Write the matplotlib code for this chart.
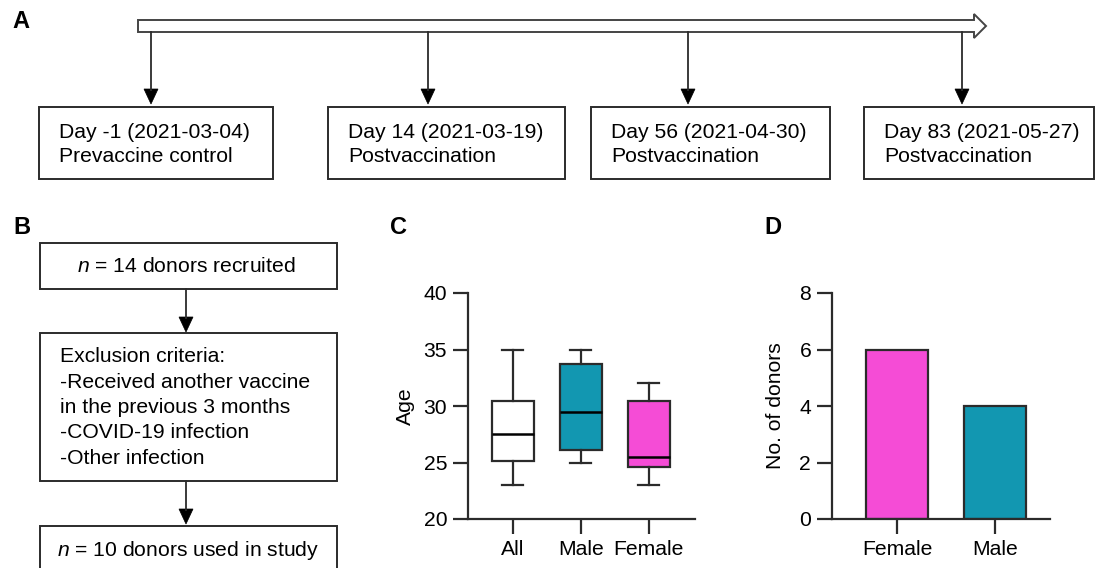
import numpy as np
import matplotlib
matplotlib.use("Agg")
import matplotlib.pyplot as plt
from matplotlib.patches import Rectangle, Polygon, FancyArrow

plt.rcParams['font.family'] = ['Liberation Sans', 'DejaVu Sans']
plt.rcParams['mathtext.fontset'] = 'custom'
plt.rcParams['mathtext.it'] = 'Liberation Sans:italic'
plt.rcParams['mathtext.rm'] = 'Liberation Sans'

# Panel A: timeline
day_labels = ["Day -1 (2021-03-04)", "Day 14 (2021-03-19)", "Day 56 (2021-04-30)", "Day 83 (2021-05-27)"]
day_notes = ["Prevaccine control", "Postvaccination", "Postvaccination", "Postvaccination"]

# Panel B: flow chart
flow_top = r"$\mathit{n}$ = 14 donors recruited"
flow_mid = ["Exclusion criteria:", "-Received another vaccine", "in the previous 3 months",
            "-COVID-19 infection", "-Other infection"]
flow_bottom = r"$\mathit{n}$ = 10 donors used in study"

# Panel C: age box plots (whisker low, q1, median, q3, whisker high)
groups = ["All", "Male", "Female"]
whislo = [23, 25, 23]
q1 = [25.1, 26.1, 24.6]
med = [27.5, 29.5, 25.5]
q3 = [30.4, 33.7, 30.4]
whishi = [35, 35, 32]

# Panel D: donor counts
sexes = ["Female", "Male"]
counts = [6, 4]

teal = '#1297b1'
pink = '#f54cd6'
ink = '#2b2b2b'
W, H = 1097, 568

fig = plt.figure(figsize=(W / 100, H / 100), dpi=100)
ax0 = fig.add_axes([0, 0, 1, 1])
ax0.set_xlim(0, W)
ax0.set_ylim(H, 0)
ax0.axis('off')


def down_arrow(x, y0, y1):
    ax0.plot([x, x], [y0, y1 - 14], color=ink, lw=1.3)
    ax0.add_patch(Polygon([[x - 7, y1 - 15], [x + 7, y1 - 15], [x, y1]], closed=True,
                          fc='black', ec='black', lw=0.5))


# panel letters
for letter, (lx, ly) in zip("ABCD", [(12, 22), (13, 227), (390, 227), (764, 227)]):
    ax0.text(lx, ly, letter, fontsize=17, fontweight='bold', va='center', ha='left')

# A
ax0.add_patch(FancyArrow(138, 26, 848, 0, width=12, head_width=24, head_length=12,
                         length_includes_head=True, fc='white', ec='#444444', lw=1.4))
box_left = [39, 328, 591, 864]
box_right = [273, 565, 830, 1094]
arrow_x = [151, 428, 688, 962]
for i in range(4):
    down_arrow(arrow_x[i], 32, 104)
    ax0.add_patch(Rectangle((box_left[i], 107), box_right[i] - box_left[i], 72,
                            fc='white', ec=ink, lw=1.4))
    ax0.text(box_left[i] + 20, 132, day_labels[i], fontsize=15.2, va='center', ha='left')
    ax0.text(box_left[i] + 20, 157, day_notes[i], fontsize=15.2, va='center', ha='left')

# B
ax0.add_patch(Rectangle((40, 243), 297, 46, fc='white', ec=ink, lw=1.4))
ax0.text(186, 267, flow_top, fontsize=15.2, va='center', ha='center')
down_arrow(186, 289, 332)
ax0.add_patch(Rectangle((40, 333), 297, 148, fc='white', ec=ink, lw=1.4))
for j, line in enumerate(flow_mid):
    ax0.text(60, 357 + j * 25.3, line, fontsize=15.2, va='center', ha='left')
down_arrow(186, 481, 524)
ax0.add_patch(Rectangle((40, 526), 297, 60, fc='white', ec=ink, lw=1.4, clip_on=False))
ax0.text(188, 550, flow_bottom, fontsize=15.2, va='center', ha='center')


def style_axes(ax):
    for s in ['top', 'right']:
        ax.spines[s].set_visible(False)
    for s in ['left', 'bottom']:
        ax.spines[s].set_linewidth(1.6)
        ax.spines[s].set_color(ink)
    ax.tick_params(axis='both', width=1.6, length=11, color=ink, labelsize=15.2, pad=4)
    ax.patch.set_alpha(0)


# C
axc = fig.add_axes([468 / W, (H - 519) / H, (695 - 468) / W, (519 - 293) / H])
stats = []
for i, g in enumerate(groups):
    stats.append(dict(label=g, whislo=whislo[i], q1=q1[i], med=med[i], q3=q3[i],
                      whishi=whishi[i], fliers=[]))
bp = axc.bxp(stats, positions=[1, 2, 3], widths=0.62, patch_artist=True, showfliers=False,
             boxprops=dict(lw=1.6, ec=ink), whiskerprops=dict(lw=1.6, color=ink),
             capprops=dict(lw=1.6, color=ink), medianprops=dict(lw=1.8, color='black'))
for patch, c in zip(bp['boxes'], ['white', teal, pink]):
    patch.set_facecolor(c)
axc.set_xlim(0.338, 3.68)
axc.set_ylim(20, 40)
axc.set_yticks([20, 25, 30, 35, 40])
axc.set_ylabel("Age", fontsize=15.2, labelpad=6)
style_axes(axc)

# D
axd = fig.add_axes([832 / W, (H - 519) / H, (1050 - 832) / W, (519 - 293) / H])
axd.bar(np.arange(len(sexes)), counts, width=0.64, color=[pink, teal], ec=ink, lw=1.6)
axd.set_xticks(np.arange(len(sexes)))
axd.set_xticklabels(sexes)
axd.set_xlim(-0.663, 1.56)
axd.set_ylim(0, 8)
axd.set_yticks([0, 2, 4, 6, 8])
axd.set_ylabel("No. of donors", fontsize=15.2, labelpad=10)
style_axes(axd)

fig.savefig("out.png", dpi=100)
